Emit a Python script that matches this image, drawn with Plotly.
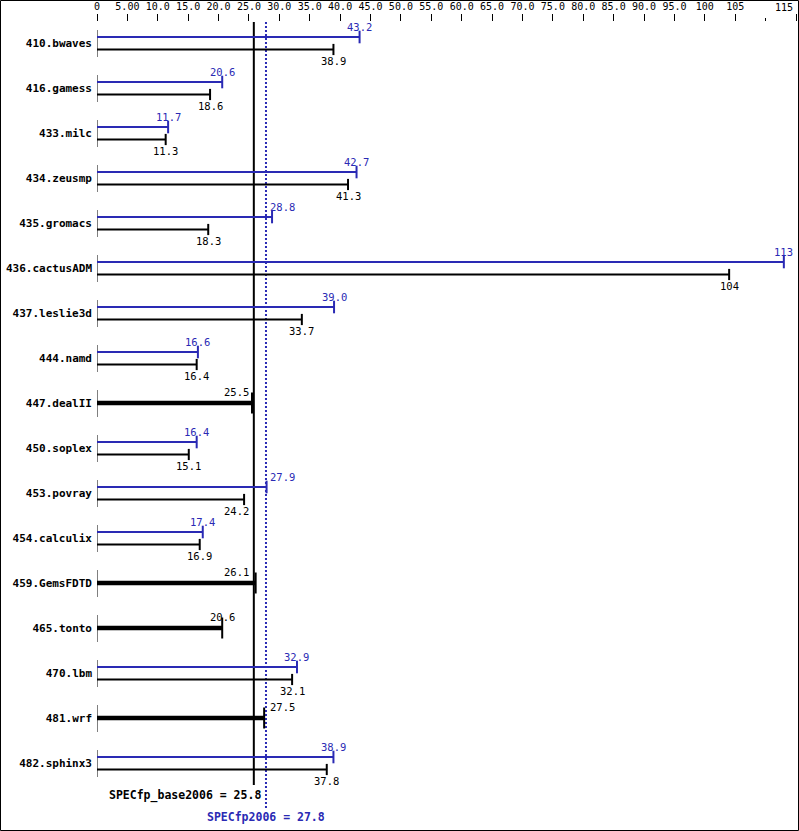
import plotly.graph_objects as go

# ---------------- data ----------------
benchmarks = ['410.bwaves', '416.gamess', '433.milc', '434.zeusmp', '435.gromacs',
              '436.cactusADM', '437.leslie3d', '444.namd', '447.dealII', '450.soplex',
              '453.povray', '454.calculix', '459.GemsFDTD', '465.tonto', '470.lbm',
              '481.wrf', '482.sphinx3']
base_ratio = [38.9, 18.6, 11.3, 41.3, 18.3, 104, 33.7, 16.4, 25.5, 15.1,
              24.2, 16.9, 26.1, 20.6, 32.1, 27.5, 37.8]
peak_ratio = [43.2, 20.6, 11.7, 42.7, 28.8, 113, 39.0, 16.6, None, 16.4,
              27.9, 17.4, None, None, 32.9, None, 38.9]
base_mean = 25.8
peak_mean = 27.8
tick_values = [0, 5, 10, 15, 20, 25, 30, 35, 40, 45, 50, 55, 60, 65, 70, 75, 80,
               85, 90, 95, 100, 105, 115]
tick_labels = ['0', '5.00', '10.0', '15.0', '20.0', '25.0', '30.0', '35.0', '40.0',
               '45.0', '50.0', '55.0', '60.0', '65.0', '70.0', '75.0', '80.0',
               '85.0', '90.0', '95.0', '100', '105', '115']
minor_ticks = [110]

# ---------------- style / layout ----------------
W, H = 799, 831
ML, MR, MT, MB = 97, 3, 22, 3
ROW0, ROWH = 43, 45          # px of first row centre, px between rows
BLUE = '#2a2ab4'
BLACK = '#000000'
MONO = 'DejaVu Sans Mono'
XMAX = 115


def u(px_off):
    """pixel offset -> y data units (1 unit = one row)"""
    return px_off / ROWH


def yrow(py):
    return (py - ROW0) / ROWH


def fmt(v):
    return f'{v:.0f}' if v >= 100 else f'{v:.1f}'


n = len(benchmarks)
idx = list(range(n))
pw, ph = W - ML - MR, H - MT - MB

fig = go.Figure()

# mean lines
fig.add_trace(go.Scatter(x=[base_mean, base_mean], y=[yrow(MT), yrow(785)], mode='lines',
                         line=dict(color=BLACK, width=2), hoverinfo='skip', showlegend=False))
fig.add_trace(go.Scatter(x=[peak_mean, peak_mean], y=[yrow(MT), yrow(810)], mode='lines',
                         line=dict(color=BLUE, width=2, dash='2px,2px'), hoverinfo='skip',
                         showlegend=False))

# start ticks at zero
sx, sy = [], []
for i in idx:
    sx += [0, 0, None]
    sy += [i - u(13), i + u(14), None]
fig.add_trace(go.Scatter(x=sx, y=sy, mode='lines', line=dict(color=BLACK, width=1),
                         hoverinfo='skip', showlegend=False))

# bars
px_, py_, bx_, by_, ox_, oy_ = [], [], [], [], [], []
pcx, pcy, bcx, bcy, ocx, ocy = [], [], [], [], [], []
for i in idx:
    b, p = base_ratio[i], peak_ratio[i]
    if p is None:
        ox_ += [0, b, None]
        oy_ += [i, i, None]
        ocx.append(b)
        ocy.append(i)
    else:
        yp, yb = i - u(6), i + u(6.5)
        px_ += [0, p, None]
        py_ += [yp, yp, None]
        bx_ += [0, b, None]
        by_ += [yb, yb, None]
        pcx.append(p)
        pcy.append(yp)
        bcx.append(b)
        bcy.append(yb)

fig.add_trace(go.Scatter(x=px_, y=py_, mode='lines', line=dict(color=BLUE, width=2),
                         hoverinfo='skip', showlegend=False))
fig.add_trace(go.Scatter(x=bx_, y=by_, mode='lines', line=dict(color=BLACK, width=2),
                         hoverinfo='skip', showlegend=False))
fig.add_trace(go.Scatter(x=ox_, y=oy_, mode='lines', line=dict(color=BLACK, width=4.5),
                         hoverinfo='skip', showlegend=False))
fig.add_trace(go.Scatter(x=pcx, y=pcy, mode='markers', cliponaxis=False,
                         marker=dict(symbol='line-ns', size=9, line=dict(width=2, color=BLUE)),
                         hoverinfo='skip', showlegend=False))
fig.add_trace(go.Scatter(x=bcx, y=bcy, mode='markers', cliponaxis=False,
                         marker=dict(symbol='line-ns', size=8, line=dict(width=2, color=BLACK)),
                         hoverinfo='skip', showlegend=False))
fig.add_trace(go.Scatter(x=ocx, y=ocy, mode='markers', cliponaxis=False,
                         marker=dict(symbol='line-ns', size=15, line=dict(width=2, color=BLACK)),
                         hoverinfo='skip', showlegend=False))

# value labels
pxu = pw / float(XMAX)
half = 13.5 / pxu
lo, hi = base_mean - 0.2, peak_mean + 0.2
mid = (base_mean + peak_mean) / 2


def label(v, y, color):
    x, anchor, shift = v, 'center', 0
    if v - half < hi and v + half > lo:
        if v <= mid:
            x, anchor, shift = base_mean, 'right', -3
        else:
            x, anchor, shift = peak_mean, 'left', 2
    fig.add_annotation(x=x, y=y, text=fmt(v), showarrow=False, xanchor=anchor,
                       yanchor='middle', xshift=shift,
                       font=dict(family=MONO, size=10.5, color=color))


for i in idx:
    b, p = base_ratio[i], peak_ratio[i]
    if p is None:
        label(b, i - u(11.5), BLACK)
    else:
        label(p, i - u(16.5), BLUE)
        label(b, i + u(18), BLACK)

# summary texts
fig.add_annotation(x=peak_mean, y=yrow(795), text='SPECfp_base2006 = ' + fmt(base_mean),
                   showarrow=False, xanchor='right', yanchor='middle', xshift=-3,
                   font=dict(family=MONO, size=11.5, color=BLACK, weight='bold'))
fig.add_annotation(x=peak_mean, y=yrow(817), text='SPECfp2006 = ' + fmt(peak_mean),
                   showarrow=False, xanchor='center', yanchor='middle',
                   font=dict(family=MONO, size=11.5, color=BLUE, weight='bold'))

# last tick label would overflow the page: draw it right-aligned to its tick
visible_ticktext = [t if v != XMAX else '' for v, t in zip(tick_values, tick_labels)]
fig.add_annotation(xref='paper', yref='paper', x=1.0, y=(H - MB - 7) / ph,
                   text=tick_labels[tick_values.index(XMAX)],
                   showarrow=False, xanchor='right', yanchor='middle', xshift=-1,
                   font=dict(family=MONO, size=10, color=BLACK))

# outer frame
fig.add_shape(type='rect', xref='paper', yref='paper',
              x0=(0.5 - ML) / pw, x1=(W - 0.5 - ML) / pw,
              y0=(H - MB - (H - 0.5)) / ph, y1=(H - MB - 0.5) / ph,
              line=dict(color=BLACK, width=1), fillcolor='rgba(0,0,0,0)', layer='above')

fig.update_layout(
    width=W, height=H,
    margin=dict(l=ML, r=MR, t=MT, b=MB, pad=0, autoexpand=False),
    paper_bgcolor='white', plot_bgcolor='white',
    showlegend=False, hovermode=False,
    xaxis=dict(side='top', range=[0, XMAX], tickmode='array', tickvals=tick_values,
               ticktext=visible_ticktext, ticks='outside', ticklen=7, tickwidth=1,
               tickcolor=BLACK, showgrid=False, zeroline=False, showline=False,
               automargin=False,
               tickfont=dict(family=MONO, size=10, color=BLACK),
               minor=dict(tickmode='array', tickvals=minor_ticks, ticks='outside',
                          ticklen=3, tickwidth=1, tickcolor=BLACK, showgrid=False),
               fixedrange=True),
    yaxis=dict(range=[yrow(H - MB), yrow(MT)], tickmode='array', tickvals=idx,
               ticktext=benchmarks, ticks='', showgrid=False, zeroline=False,
               showline=False, ticklabelstandoff=4, automargin=False,
               tickfont=dict(family=MONO, size=11, color=BLACK, weight='bold'),
               fixedrange=True),
)

fig.write_html('out.html', config={'displayModeBar': False},
               post_script="document.body.style.margin='0';document.body.style.padding='0';")
